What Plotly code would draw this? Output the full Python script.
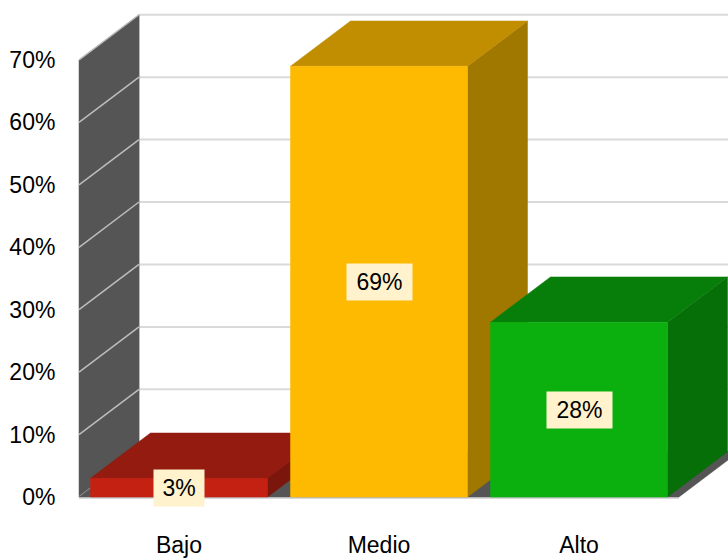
import plotly.graph_objects as go

categories = ["Bajo", "Medio", "Alto"]
values = [3, 69, 28]
labels = ["3%", "69%", "28%"]
y_ticks = [0, 10, 20, 30, 40, 50, 60, 70]
y_tick_text = ["0%", "10%", "20%", "30%", "40%", "50%", "60%", "70%"]
front_colors = ["#C52113", "#FDBA00", "#0BB00E"]
top_colors = ["#931B10", "#C08E00", "#087E0A"]
side_colors = ["#7A160C", "#A07800", "#076F08"]

DX = 0.30     # depth offset in x units
DY = 7.25     # depth offset in y units
HALF = 0.4425 # half bar width
X_LEFT, X_RIGHT = -0.5, 2.5
YMAX = y_ticks[-1]

fig = go.Figure()


def poly(xs, ys, color):
    fig.add_trace(go.Scatter(x=xs + [xs[0]], y=ys + [ys[0]], fill="toself",
                             fillcolor=color, mode="lines",
                             line=dict(color=color, width=0.5),
                             hoverinfo="skip", showlegend=False))


def seg(xs, ys, color, width):
    fig.add_trace(go.Scatter(x=xs, y=ys, mode="lines",
                             line=dict(color=color, width=width),
                             hoverinfo="skip", showlegend=False))


# back wall grid lines
for t in y_ticks:
    seg([X_LEFT + DX, 3.0], [t + DY, t + DY], "#dadada", 2)
seg([X_LEFT + DX, X_LEFT + DX], [DY, YMAX + DY], "#cfcfcf", 1.5)

# side wall
poly([X_LEFT, X_LEFT, X_LEFT + DX, X_LEFT + DX], [0, YMAX, YMAX + DY, DY], "#555555")
for t in y_ticks:
    seg([X_LEFT, X_LEFT + DX], [t, t + DY], "#bdbdbd", 1.5)

# floor
seg([X_LEFT, X_RIGHT], [-0.15, -0.15], "#dadada", 2)
poly([X_LEFT, X_RIGHT, X_RIGHT + DX, X_LEFT + DX], [0, 0, DY, DY], "#555555")

lab_font = dict(size=23, color="#000000", family="Liberation Sans, Arial, sans-serif")

# bars
for i, v in enumerate(values):
    x0, x1 = i - HALF, i + HALF
    poly([x1, x1 + DX, x1 + DX, x1], [0, DY, v + DY, v], side_colors[i])
    poly([x0, x1, x1 + DX, x0 + DX], [v, v, v + DY, v + DY], top_colors[i])
    poly([x0, x1, x1, x0], [0, 0, v, v], front_colors[i])
    fig.add_annotation(x=i, y=v / 2, text=labels[i], showarrow=False,
                       bgcolor="#FFF2CC", borderpad=4,
                       width=len(labels[i]) * 15 + 12, height=28,
                       font=lab_font)

font = dict(family="Liberation Sans, Arial, sans-serif", size=23, color="#000000")
fig.update_layout(
    width=728, height=558,
    margin=dict(l=77, r=0, t=0, b=58, autoexpand=False),
    paper_bgcolor="white", plot_bgcolor="white",
    font=font, showlegend=False,
    xaxis=dict(range=[-0.51, 2.745], tickmode="array", tickvals=[0, 1, 2],
               ticktext=categories, showgrid=False, zeroline=False,
               showline=False, ticks="outside", ticklen=24, automargin=False,
               tickcolor="rgba(0,0,0,0)", tickfont=font, fixedrange=True),
    yaxis=dict(range=[-0.4806, 79.61], tickmode="array", tickvals=y_ticks,
               ticktext=y_tick_text, showgrid=False, zeroline=False,
               showline=False, ticks="outside", ticklen=16, automargin=False,
               tickcolor="rgba(0,0,0,0)", tickfont=font, fixedrange=True),
)

fig.write_html("out.html", config={"displayModeBar": False})
